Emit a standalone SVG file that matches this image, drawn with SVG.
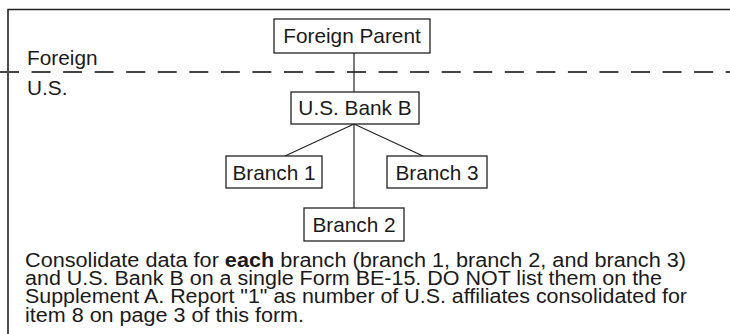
<svg xmlns="http://www.w3.org/2000/svg" width="730" height="334" viewBox="0 0 730 334">
<style>
.box{fill:#fff;stroke:#222;stroke-width:1.3}
.lbl{font-family:"Liberation Sans",Arial,sans-serif;font-size:20.8px;fill:#1a1a1a}
.note{font-family:"Liberation Sans",Arial,sans-serif;font-size:19.5px;fill:#1a1a1a}
.conn{stroke:#222;stroke-width:1.2;fill:none}
.frame{stroke:#222;stroke-width:1.6;fill:none}
.dash{stroke:#444;stroke-width:1.8;stroke-dasharray:19 12.55;fill:none}
</style>
<rect width="730" height="334" fill="#fff"/>
<g id="frame">
<path class="frame" d="M8,334 V9.5 H730"/>
<line class="dash" x1="0" y1="72" x2="730" y2="72"/>
<text class="lbl" x="27" y="65">Foreign</text>
<text class="lbl" x="27" y="95">U.S.</text>
</g>
<g id="connectors">
<line class="conn" x1="354" y1="53" x2="354" y2="92"/>
<line class="conn" x1="354" y1="124" x2="354" y2="208"/>
<line class="conn" x1="354" y1="124" x2="285" y2="156"/>
<line class="conn" x1="354" y1="124" x2="423" y2="156"/>
</g>
<g id="foreign-parent">
<rect class="box" x="274" y="19" width="156" height="34"/>
<text class="lbl" x="352" y="43" text-anchor="middle">Foreign Parent</text>
</g>
<g id="us-bank-b">
<rect class="box" x="291" y="92" width="128" height="32"/>
<text class="lbl" x="355" y="115" text-anchor="middle">U.S. Bank B</text>
</g>
<g id="branch-1">
<rect class="box" x="226" y="156" width="96" height="32"/>
<text class="lbl" x="274" y="180" text-anchor="middle">Branch 1</text>
</g>
<g id="branch-3">
<rect class="box" x="387" y="156" width="100" height="32"/>
<text class="lbl" x="437" y="180" text-anchor="middle">Branch 3</text>
</g>
<g id="branch-2">
<rect class="box" x="304" y="208" width="100" height="33"/>
<text class="lbl" x="354" y="232" text-anchor="middle">Branch 2</text>
</g>
<g id="note">
<text class="note" x="25" y="266.5" textLength="661" lengthAdjust="spacingAndGlyphs">Consolidate data for <tspan font-weight="900">each</tspan> branch (branch 1, branch 2, and branch 3)</text>
<text class="note" x="25" y="285" textLength="637" lengthAdjust="spacingAndGlyphs">and U.S. Bank B on a single Form BE-15. DO NOT list them on the</text>
<text class="note" x="25" y="303.3" textLength="662" lengthAdjust="spacingAndGlyphs">Supplement A. Report "1" as number of U.S. affiliates consolidated for</text>
<text class="note" x="25" y="321.6" textLength="279" lengthAdjust="spacingAndGlyphs">item 8 on page 3 of this form.</text>
</g>
</svg>
